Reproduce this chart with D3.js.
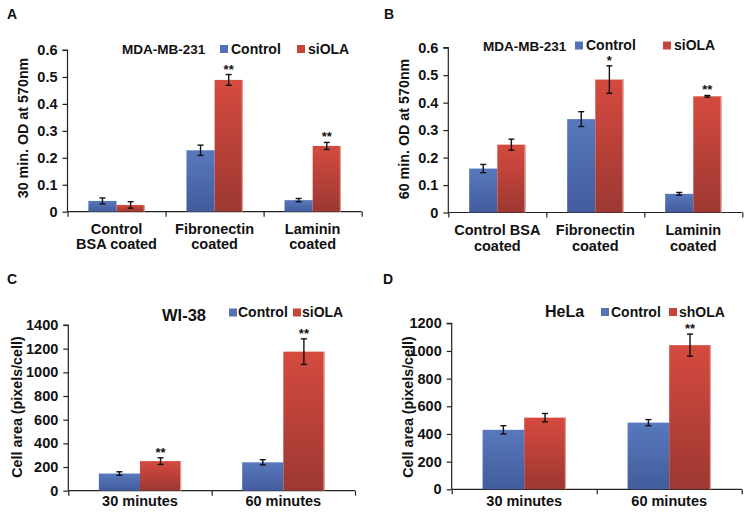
<!DOCTYPE html>
<html>
<head>
<meta charset="utf-8">
<script src="https://cdn.jsdelivr.net/npm/d3@7"></script>
<style>
  body { margin: 0; background: #fff; }
  svg { font-family: "Liberation Sans", Arial, sans-serif; font-weight: bold; }
</style>
</head>
<body>
<svg id="chart" width="749" height="521"></svg>
<script>
// ---- data ----
const catsA = [["Control", "BSA coated"], ["Fibronectin", "coated"], ["Laminin", "coated"]];
const ctrlA = [0.040, 0.228, 0.043];
const ctrlErrA = [0.011, 0.019, 0.006];
const siA = [0.025, 0.489, 0.244];
const siErrA = [0.012, 0.020, 0.013];
const sigA = ["", "**", "**"];

const catsB = [["Control BSA", "coated"], ["Fibronectin", "coated"], ["Laminin", "coated"]];
const ctrlB = [0.160, 0.340, 0.068];
const ctrlErrB = [0.015, 0.027, 0.005];
const siB = [0.247, 0.484, 0.423];
const siErrB = [0.020, 0.050, 0.003];
const sigB = ["", "*", "**"];

const catsCD = [["30 minutes"], ["60 minutes"]];
const ctrlC = [145, 240];
const ctrlErrC = [15, 22];
const siC = [250, 1175];
const siErrC = [28, 108];
const sigC = ["**", "**"];

const ctrlD = [430, 482];
const ctrlErrD = [30, 22];
const shD = [518, 1042];
const shErrD = [30, 80];
const sigD = ["", "**"];

const ticksAB = [0, 0.1, 0.2, 0.3, 0.4, 0.5, 0.6];
const ticksC = [0, 200, 400, 600, 800, 1000, 1200, 1400];
const ticksD = [0, 200, 400, 600, 800, 1000, 1200];

const svg = d3.select("#chart");

// gradients for the bars
const defs = svg.append("defs");
function grad(id, top, bottom) {
  const g = defs.append("linearGradient").attr("id", id)
    .attr("x1", 0).attr("y1", 0).attr("x2", 0).attr("y2", 1);
  g.append("stop").attr("offset", "0%").attr("stop-color", top);
  g.append("stop").attr("offset", "100%").attr("stop-color", bottom);
}
grad("gBlue", "#5879bd", "#425c9c");
grad("gRed", "#d54a3f", "#9c3832");

function panel(p) {
  const g = svg.append("g");

  const x = d3.scaleBand()
    .domain(d3.range(p.cats.length))
    .range([p.x0, p.x1]);
  const y = d3.scaleLinear()
    .domain([0, p.max])
    .range([p.yBot, p.yTop]);
  const bw = x.bandwidth() * 0.287;

  // axes
  const yAxis = d3.axisLeft(y).tickValues(p.ticks).tickSize(5).tickPadding(5)
    .tickFormat(p.fmt);
  const gy = g.append("g").attr("transform", `translate(${p.x0},0)`).call(yAxis);
  gy.select(".domain").attr("d", `M-5,${p.yTop}H0V${p.yBot}`);
  gy.selectAll("text").style("font-size", "14.5px").attr("fill", "#111");

  const xAxis = d3.axisBottom(d3.scaleLinear().domain([0, p.cats.length]).range([p.x0, p.x1]))
    .tickValues(d3.range(p.cats.length + 1)).tickSize(5).tickFormat("");
  const gx = g.append("g").attr("transform", `translate(0,${p.yBot})`).call(xAxis);
  gx.select(".domain").attr("d", `M${p.x0},0H${p.x1}`);
  g.selectAll(".domain, .tick line").attr("stroke", "#222").attr("stroke-width", 1.2);

  // category labels
  p.cats.forEach((lines, i) => {
    const t = g.append("text")
      .attr("x", x(i) + x.bandwidth() / 2)
      .attr("y", p.yBot + p.labDy)
      .attr("text-anchor", "middle")
      .style("font-size", "14.5px").attr("fill", "#111");
    lines.forEach((l, j) => t.append("tspan")
      .attr("x", x(i) + x.bandwidth() / 2).attr("dy", j ? 15.5 : 0).text(l));
  });

  // bars
  const series = [
    { vals: p.ctrl, errs: p.ctrlErr, fill: "url(#gBlue)", off: -bw },
    { vals: p.tr, errs: p.trErr, fill: "url(#gRed)", off: 0 }
  ];
  series.forEach(s => {
    g.selectAll(null).data(s.vals).enter().append("rect")
      .attr("x", (d, i) => x(i) + x.bandwidth() / 2 + s.off)
      .attr("y", d => y(d))
      .attr("width", bw)
      .attr("height", d => p.yBot - y(d))
      .attr("fill", s.fill);
  });
  // faint light edge on the red bars
  g.selectAll(null).data(p.tr).enter().append("line")
    .attr("x1", (d, i) => x(i) + x.bandwidth() / 2 + bw - 0.5)
    .attr("x2", (d, i) => x(i) + x.bandwidth() / 2 + bw - 0.5)
    .attr("y1", d => y(d)).attr("y2", p.yBot)
    .attr("stroke", "#eaa6a0").attr("stroke-width", 1);

  // error bars
  series.forEach(s => {
    s.vals.forEach((v, i) => {
      const cx = x(i) + x.bandwidth() / 2 + s.off + bw / 2;
      const e = s.errs[i];
      const eg = g.append("g").attr("stroke", "#111").attr("stroke-width", 1.4);
      eg.append("line").attr("x1", cx).attr("x2", cx).attr("y1", y(v - e)).attr("y2", y(v + e));
      eg.append("line").attr("x1", cx - 3).attr("x2", cx + 3).attr("y1", y(v - e)).attr("y2", y(v - e));
      eg.append("line").attr("x1", cx - 3).attr("x2", cx + 3).attr("y1", y(v + e)).attr("y2", y(v + e));
    });
  });

  // significance stars
  p.sig.forEach((s, i) => {
    if (!s) return;
    const cx = x(i) + x.bandwidth() / 2 + bw / 2;
    g.append("text").attr("x", cx).attr("y", y(p.tr[i] + p.trErr[i]) - 1)
      .attr("text-anchor", "middle").style("font-size", "13px").attr("fill", "#111").text(s);
  });

  // y axis title
  g.append("text")
    .attr("transform", `translate(${p.titleX},${p.titleMid}) rotate(-90)`)
    .attr("text-anchor", "middle").style("font-size", "14.3px").attr("fill", "#111")
    .text(p.yTitle);

  // cell line title + legend
  g.append("text").attr("x", p.cellX).attr("y", p.cellY).style("font-size", p.cellSize + "px")
    .attr("fill", "#111").text(p.cell);
  [[p.legX[0], "#5272b6", p.names[0]], [p.legX[1], "#c6443b", p.names[1]]].forEach(([lx, c, n]) => {
    g.append("rect").attr("x", lx).attr("y", p.legY - 8.5).attr("width", 8).attr("height", 8).attr("fill", c);
    g.append("text").attr("x", lx + p.legGap).attr("y", p.legY).style("font-size", "14px")
      .attr("fill", "#111").text(n);
  });

  // panel letter
  g.append("text").attr("x", p.letterX).attr("y", p.letterY).style("font-size", "14px")
    .attr("fill", "#111").text(p.letter);
}

const fmtOD = d => d === 0 ? "0" : d.toFixed(1);

panel({ letter: "A", letterX: 7, letterY: 19, cats: catsA, ctrl: ctrlA, ctrlErr: ctrlErrA,
  tr: siA, trErr: siErrA, sig: sigA, ticks: ticksAB, max: 0.6, fmt: fmtOD,
  x0: 67.5, x1: 361.7, yTop: 50, yBot: 211.7, labDy: 22, titleX: 27.5, titleMid: 128,
  yTitle: "30 min. OD at 570nm", cell: "MDA-MB-231", cellX: 122, cellY: 54, cellSize: 13.5,
  legY: 53.5, legX: [220, 297], legGap: 11, names: ["Control", "siOLA"] });

panel({ letter: "B", letterX: 384, letterY: 19, cats: catsB, ctrl: ctrlB, ctrlErr: ctrlErrB,
  tr: siB, trErr: siErrB, sig: sigB, ticks: ticksAB, max: 0.6, fmt: fmtOD,
  x0: 448.3, x1: 742.3, yTop: 47.7, yBot: 212.5, labDy: 22.5, titleX: 409, titleMid: 129,
  yTitle: "60 min. OD at 570nm", cell: "MDA-MB-231", cellX: 483, cellY: 51, cellSize: 13.5,
  legY: 50, legX: [575, 663], legGap: 11, names: ["Control", "siOLA"] });

panel({ letter: "C", letterX: 7, letterY: 284, cats: catsCD, ctrl: ctrlC, ctrlErr: ctrlErrC,
  tr: siC, trErr: siErrC, sig: sigC, ticks: ticksC, max: 1400, fmt: d => d,
  x0: 68.3, x1: 355, yTop: 325, yBot: 490.7, labDy: 15, titleX: 22, titleMid: 407,
  yTitle: "Cell area (pixels/cell)", cell: "WI-38", cellX: 162, cellY: 321, cellSize: 16.5,
  legY: 317, legX: [229, 293], legGap: 9, names: ["Control", "siOLA"] });

panel({ letter: "D", letterX: 383, letterY: 284, cats: catsCD, ctrl: ctrlD, ctrlErr: ctrlErrD,
  tr: shD, trErr: shErrD, sig: sigD, ticks: ticksD, max: 1200, fmt: d => d,
  x0: 451.7, x1: 741.7, yTop: 323.3, yBot: 489.3, labDy: 16.5, titleX: 413, titleMid: 407,
  yTitle: "Cell area (pixels/cell)", cell: "HeLa", cellX: 545, cellY: 317, cellSize: 16,
  legY: 316.5, legX: [601, 669], legGap: 10, names: ["Control", "shOLA"] });
</script>
</body>
</html>
